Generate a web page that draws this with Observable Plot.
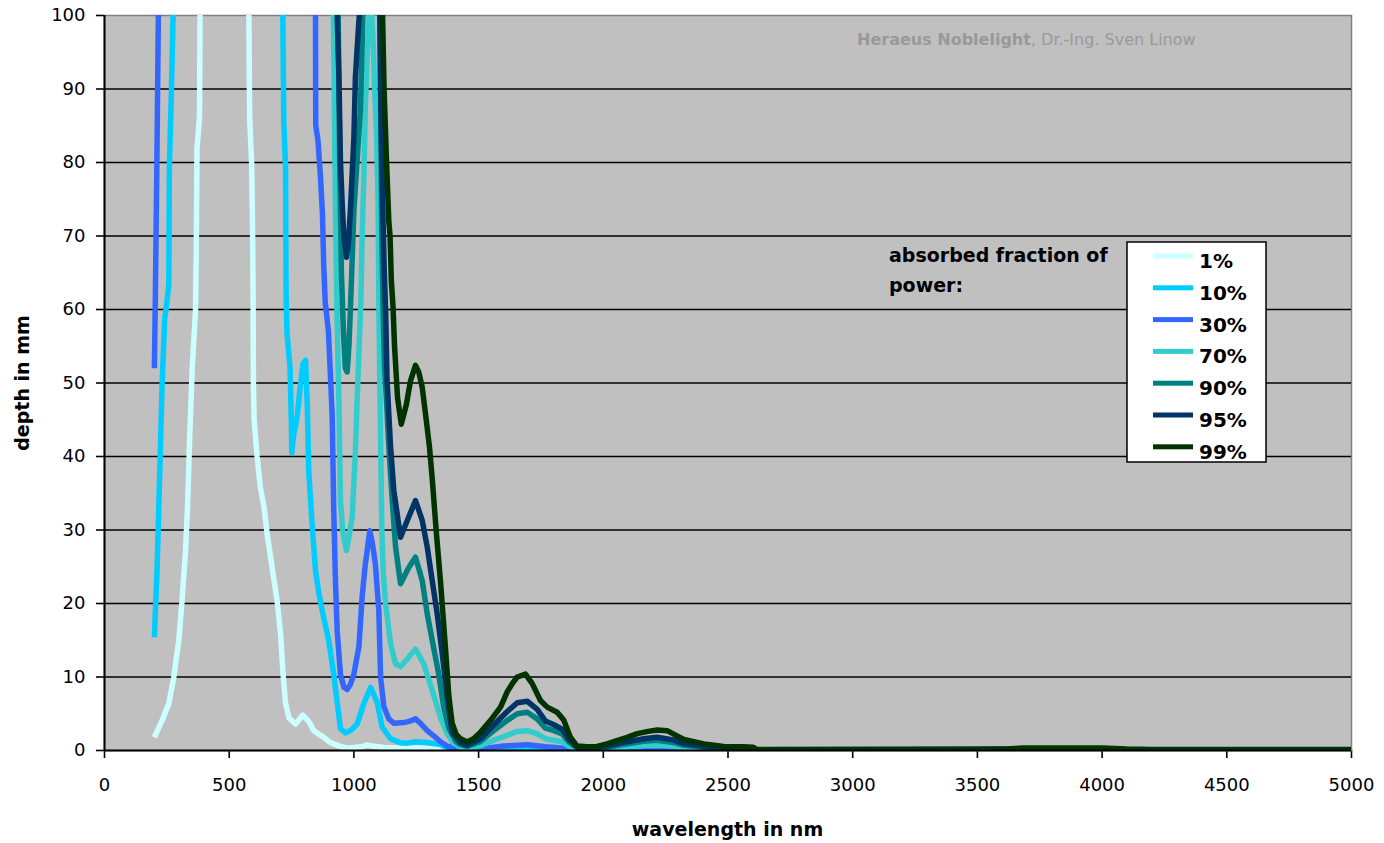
<!DOCTYPE html>
<html>
<head>
<meta charset="utf-8">
<script src="https://cdn.jsdelivr.net/npm/d3@7"></script>
<script src="https://cdn.jsdelivr.net/npm/@observablehq/plot@0.6"></script>
<style>
  html, body { margin: 0; padding: 0; background: #ffffff; }
  #chart { width: 1384px; height: 843px; }
</style>
</head>
<body>
<div id="chart"></div>
<script>
// ---- data (wavelength in nm, depth in mm) ----
const seriesNames = ["1%", "10%", "30%", "70%", "90%", "95%", "99%"];
const seriesColors = ["#CCFFFF", "#00CCFF", "#3366FF", "#33CCCC", "#008080", "#003366", "#003300"];

const wl1 = [200,231,258,278,298,311,325,334,342,352,365,368,371,381,383,480,579,582,590,594,596,597,600,612,625,640,652,672,692,706,716,726,740,766,780,795,810,822,839,860,879,900,919,950,973,1000,1030,1053,1075,1100,1120,1200,1250,1320,1374,1420,1500,1700,1900,2200,5000];
const d1  = [1.8,4.1,6.4,10,15,20.4,27.2,34,43.1,52.2,59.9,68,82,86.2,100,150,100,86,80,70,60,50,45,40,35.8,33,29.5,24.9,20.4,15.9,10.4,6.4,4.4,3.6,4.2,4.8,4.3,3.8,2.7,2.2,1.8,1.2,0.9,0.5,0.35,0.4,0.5,0.75,0.6,0.5,0.4,0.3,0.35,0.3,0.25,0.08,0.03,0.05,0.01,0.01,0.01];

const wl10 = [200,211,222,231,241,251,258,260,268,275,500,715,719,726,728,732,744,749,751,759,772,786,796,806,813,819,832,846,859,873,899,919,935,946,966,990,1013,1040,1067,1093,1113,1147,1187,1214,1247,1290,1347,1374,1420,1454,1550,1695,1800,1900,2220,2500,5000];
const d10  = [15.4,24.9,38.5,49.9,58.5,61.2,63.5,79.4,89.3,100,150,100,85.3,79.4,62,56.7,52,45,40.5,43,45.3,49.9,52.6,53.1,47,38,31,24.5,21.5,19,15,10.4,6,3,2.4,2.8,3.6,6.4,8.6,6.6,3.2,1.6,1.05,1.0,1.2,1.1,0.8,0.4,0.1,0.05,0.1,0.24,0.12,0.02,0.06,0.02,0.01];

const wl30 = [200,204,210,216,500,846,847,856,866,874,879,885,898,906,913,919,926,933,946,960,973,986,1000,1020,1033,1046,1064,1075,1086,1100,1107,1120,1140,1160,1200,1225,1247,1270,1294,1320,1347,1374,1420,1454,1508,1600,1695,1768,1835,1900,2000,2216,2400,2600,5000];
const d30  = [52,62,80,100,150,100,85,83,78,73,66,61,57,51,45.5,33,23.1,16.3,10.4,8.6,8.3,9,10.4,14.1,20.9,25.4,29.9,28,25.4,19,10,6,4.3,3.7,3.8,4,4.3,3.6,2.7,2,1.2,0.6,0.2,0.1,0.2,0.6,0.8,0.5,0.35,0.05,0.07,0.22,0.06,0.03,0.01];

const wl70 = [900,918,926,933,940,946,955,970,980,993,1006,1013,1022,1028,1033,1040,1046,1055,1062,1070,1078,1083,1091,1097,1100,1104,1108,1112,1118,1127,1147,1167,1187,1220,1247,1280,1314,1347,1374,1400,1427,1454,1508,1561,1615,1655,1695,1735,1768,1802,1835,1862,1895,1935,2015,2096,2162,2216,2281,2323,2416,2483,2600,2615,3650,4000,4100,5000];
const d70  = [150,100,74,58,47.6,34,30,27.2,29,31.7,40.8,47.6,56,61,70,78,88,96,100,101,96,90,84,74.8,61,50,40,30,24,20,14.5,11.8,11.4,12.7,13.8,11.8,8.2,4.5,2.3,1.0,0.45,0.3,0.65,1.4,2.1,2.6,2.7,2.25,1.6,1.4,1.2,0.6,0.18,0.12,0.24,0.47,0.65,0.73,0.58,0.37,0.2,0.14,0.1,0.04,0.08,0.09,0.04,0.04];

const wl90 = [920,937,943,950,958,966,973,980,986,993,1000,1013,1026,1033,1036,1070,1105,1108,1112,1117,1123,1130,1140,1153,1167,1187,1220,1247,1274,1294,1314,1340,1360,1381,1410,1427,1454,1508,1561,1615,1655,1695,1735,1768,1802,1835,1862,1895,1935,2015,2096,2162,2216,2281,2323,2416,2483,2600,2615,3650,4000,4100,5000];
const d90  = [150,100,80,65,57,52,51.5,55,60,66.7,73.5,80.3,87,96,100,150,100,85,70,60,52,48,41.3,34.4,27.7,22.7,24.9,26.3,23.1,18.6,15,10.4,5.9,3,1.2,0.8,0.55,1.25,2.7,4.1,5,5.2,4.3,3.05,2.7,2.25,1.15,0.35,0.22,0.45,0.9,1.25,1.4,1.1,0.7,0.4,0.28,0.22,0.07,0.15,0.17,0.07,0.07];

const wl95 = [920,933,940,946,953,960,970,978,986,1000,1006,1020,1022,1060,1104,1108,1115,1122,1127,1133,1147,1160,1187,1214,1247,1274,1294,1314,1334,1354,1374,1394,1427,1454,1508,1561,1615,1655,1695,1735,1768,1802,1835,1862,1895,1935,2015,2096,2162,2216,2281,2323,2416,2483,2600,2615,3650,4000,4100,5000];
const d95  = [150,100,91.6,80.3,74.4,69.8,67.1,69,73.5,83.4,91.6,99.3,100,150,100,87,75,65,60,50.3,41.3,35.4,29,31.3,34,31.3,27.7,23.1,18.6,13.2,7.3,2.4,1.05,0.7,1.6,3.5,5.3,6.5,6.7,5.6,4,3.5,2.9,1.5,0.45,0.3,0.6,1.2,1.6,1.8,1.45,0.9,0.52,0.36,0.3,0.1,0.2,0.22,0.1,0.1];

const wl99 = [1080,1115,1121,1131,1140,1145,1150,1157,1163,1175,1190,1210,1227,1247,1260,1274,1290,1303,1314,1330,1347,1367,1381,1394,1410,1427,1454,1480,1508,1548,1588,1615,1635,1655,1688,1715,1748,1775,1815,1842,1868,1895,1935,1975,2015,2055,2096,2136,2180,2216,2256,2290,2323,2403,2483,2560,2600,2615,3000,3500,3620,3680,4000,4100,4200,5000];
const d99  = [150,100,90,80,72,70,64,60.3,55,48,44.4,47,50.3,52.4,51.5,49.4,45,41.3,37,29.9,23.1,14,7.3,3.7,2.2,1.6,1.15,1.6,2.5,4.1,5.9,8,9.1,10,10.4,9.1,6.8,5.9,5.2,4.1,1.8,0.6,0.5,0.55,0.9,1.36,1.8,2.3,2.6,2.8,2.7,2.1,1.5,0.9,0.55,0.5,0.45,0.15,0.15,0.15,0.2,0.35,0.35,0.2,0.15,0.15];

const xTicks = [0, 500, 1000, 1500, 2000, 2500, 3000, 3500, 4000, 4500, 5000];
const yTicks = [0, 10, 20, 30, 40, 50, 60, 70, 80, 90, 100];

const xTitle = "wavelength in nm";
const yTitle = "depth in mm";
const legendTitle = ["absorbed fraction of", "power:"];
const creditBold = "Heraeus Noblelight";
const creditRest = ", Dr.-Ing. Sven Linow";

// ---- build tables ----
const wlArrays = [wl1, wl10, wl30, wl70, wl90, wl95, wl99];
const dArrays = [d1, d10, d30, d70, d90, d95, d99];
const tables = seriesNames.map((name, i) =>
  wlArrays[i].map((w, j) => ({series: name, wl: w, depth: dArrays[i][j]}))
);

const lineMarks = tables.map((t, i) =>
  Plot.line(t, {x: "wl", y: "depth", stroke: seriesColors[i], strokeWidth: 5.5,
    strokeLinejoin: "round", strokeLinecap: "butt", clip: true})
);

const chart = Plot.plot({
  width: 1384,
  height: 843,
  marginLeft: 104,
  marginRight: 33,
  marginTop: 15,
  marginBottom: 93,
  style: {fontFamily: "'DejaVu Sans', sans-serif", fontSize: "18px", color: "black", background: "white"},
  x: {domain: [0, 5000], ticks: xTicks, tickSize: 8, tickPadding: 20, tickFormat: d => String(d), label: null},
  y: {domain: [0, 100], ticks: yTicks, tickSize: 8, tickPadding: 11, tickFormat: d => String(d), label: null},
  marks: [
    Plot.frame({fill: "#C0C0C0", stroke: "#808080", strokeWidth: 1.5}),
    Plot.ruleY(yTicks.filter(t => t > 0 && t < 100), {stroke: "black", strokeWidth: 1.5}),
    ...lineMarks,
    Plot.ruleX([0], {stroke: "black", strokeWidth: 2}),
    Plot.ruleY([0], {stroke: "black", strokeWidth: 2})
  ]
});

const svg = d3.select(chart);
svg.selectAll("g[aria-label$='tick'] path").attr("stroke-width", 1.6);

// axis titles
svg.append("text")
  .attr("x", 727.5).attr("y", 829).attr("dy", "0.35em")
  .attr("text-anchor", "middle").attr("font-weight", "bold").attr("font-size", 19)
  .attr("fill", "black").text(xTitle);
svg.append("text")
  .attr("transform", "translate(22,383) rotate(-90)").attr("dy", "0.35em")
  .attr("text-anchor", "middle").attr("font-weight", "bold").attr("font-size", 19)
  .attr("fill", "black").text(yTitle);

// credit
const credit = svg.append("text").attr("x", 857).attr("y", 45).attr("text-anchor", "start")
  .attr("font-size", 16).attr("fill", "#999999");
credit.append("tspan").attr("font-weight", "bold").text(creditBold);
credit.append("tspan").text(creditRest);

// legend heading
legendTitle.forEach((line, i) => {
  svg.append("text").attr("x", 889).attr("y", 262 + i * 30).attr("text-anchor", "start")
    .attr("font-weight", "bold").attr("font-size", 19).attr("fill", "black").text(line);
});

// legend box
const lg = svg.append("g");
lg.append("rect").attr("x", 1127).attr("y", 242).attr("width", 139).attr("height", 220)
  .attr("fill", "white").attr("stroke", "black").attr("stroke-width", 1.5);
seriesNames.forEach((name, i) => {
  const cy = 256 + i * 31.8;
  lg.append("rect").attr("x", 1153).attr("y", cy - 2.5).attr("width", 40).attr("height", 5)
    .attr("fill", seriesColors[i]);
  lg.append("text").attr("x", 1199).attr("y", cy + 5).attr("dy", "0.35em").attr("text-anchor", "start")
    .attr("font-weight", "bold").attr("font-size", 20).attr("fill", "black").text(name);
});

document.getElementById("chart").appendChild(chart);
</script>
</body>
</html>
